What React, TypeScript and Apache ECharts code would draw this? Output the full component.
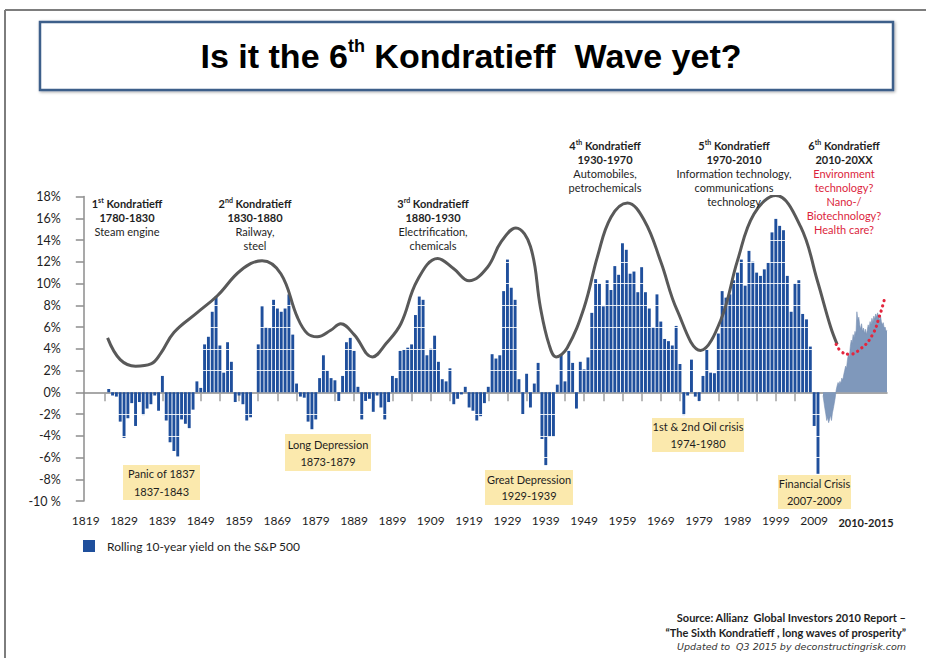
import React, { useEffect, useRef } from 'react';
import * as echarts from 'echarts';

// ---------- data ----------
const seriesName = 'Rolling 10-year yield on the S&P 500';
const barStartYear = 1825;
const yieldValues: number[] = [
  0.3, -0.3, -0.4, -2.7, -4.2, -2.4, -1.0, -3.1, -0.9, -2.1,
  -1.5, -1.1, -0.3, -1.7, 1.5, -2.6, -4.6, -5.4, -5.9, -2.5,
  -2.9, -3.3, -1.6, 1.0, 0.4, 4.4, 5.1, 7.4, 8.8, 4.3,
  1.8, 4.6, 2.8, -0.9, -0.3, -1.1, -2.6, -2.3, 0, 4.4,
  7.9, 6.0, 5.9, 8.5, 7.7, 7.4, 7.7, 9.0, 5.3, 0.8,
  -0.4, -0.5, -2.7, -3.4, -2.5, 1.3, 3.4, 2.0, 1.3, 1.1,
  -0.8, 1.5, 4.6, 5.0, 3.8, 0.5, -2.5, -0.8, -0.6, -1.8,
  -0.3, -1.4, -2.5, -0.9, 1.5, 1.3, 3.8, 3.9, 4.1, 4.4,
  7.1, 8.8, 8.5, 3.4, 4.0, 5.2, 2.8, 1.2, 1.0, 2.2,
  -1.1, -0.6, -0.2, 0.5, -1.4, -1.7, -2.6, -2.2, -1.0, 0.5,
  3.5, 3.1, 3.4, 9.3, 12.2, 9.6, 8.5, 1.2, -2.0, 1.7,
  -1.4, 0.8, 2.7, -4.3, -6.7, -4.1, -4.1, 0.7, 3.5, 1.0,
  3.8, 2.7, -1.5, 2.8, 2.1, 3.2, 7.3, 10.4, 10.0, 7.9,
  10.3, 9.4, 11.6, 10.8, 13.7, 13.1, 10.9, 11.1, 9.2, 11.5,
  9.2, 7.7, 6.0, 9.0, 6.5, 4.9, 4.7, 4.3, 6.1, 2.6,
  -2.1, -0.3, 3.0, -0.4, -0.8, 1.5, 3.9, 1.8, 1.75, 5.4,
  9.3, 8.7, 9.0, 10.3, 11.0, 12.2, 9.8, 13.0, 12.0, 11.0,
  10.7, 11.3, 11.9, 14.7, 16.0, 15.3, 14.9, 10.7, 7.4, 10.0,
  10.3, 7.2, 6.7, 4.2, -3.1, -7.5,
];
const barYears = yieldValues.map((_, i) => barStartYear + i);

const waveYears = [
  1824.7, 1828, 1832, 1836, 1838.6, 1842, 1848, 1853.4, 1859.4, 1865,
  1869.9, 1874.2, 1876.8, 1879.4, 1882.9, 1885.5, 1889, 1893.8, 1897.4, 1901.2,
  1905.5, 1910.8, 1915, 1919, 1923.8, 1927.3, 1931.2, 1935, 1937.6, 1939.8,
  1941.7, 1944.6, 1949, 1952.5, 1956, 1960.3, 1964.7, 1969, 1973.3, 1979.4,
  1984.6, 1989, 1993.3, 1999, 2005.5, 2009.8, 2013.3, 2015,
];
const waveValues = [
  5.0, 3.0, 2.4, 2.6, 3.6, 5.5, 7.3, 8.9, 11.2, 12.1,
  10.9, 6.9, 5.4, 5.1, 5.7, 6.3, 5.3, 3.25, 4.5, 6.3,
  10.3, 12.3, 11.35, 10.25, 11.5, 13.8, 15.1, 13.4, 7.8, 4.45,
  3.25, 4.1, 7.8, 12.5, 16.1, 17.4, 15.8, 12.0, 7.5, 3.85,
  6.6, 12.1, 16.4, 18.1, 15.2, 10.3, 6.0, 4.4,
];

// monthly periods 2010-01 .. 2015-09
const recentPeriods: string[] = [];
for (let y = 2010; y <= 2015; y++) {
  for (let m = 1; m <= 12; m++) {
    if (y === 2015 && m > 9) break;
    recentPeriods.push(`${y}-${m < 10 ? '0' + m : m}`);
  }
}
const recentValues = [
  -0.3, -0.9, -1.5, -2.0, -2.6, -2.3, -2.8, -2.5, -2.1, -2.6, -1.9, -1.5, -1.0, -0.5, 0.2,
  0.6, 0.9, 0.7, 1.0, 0.8, 1.3, 1.1, 1.6, 2.0, 2.4, 2.2, 3.0, 3.5, 3.2, 4.2, 4.8, 4.5, 5.3, 5.0, 5.6, 5.3,
  7.4, 6.6, 6.9, 6.2, 5.8, 6.3, 5.6, 5.9, 5.4, 5.8, 5.3, 5.7, 6.2, 5.9, 6.5, 6.2, 6.8, 6.4, 7.0, 6.7,
  7.2, 6.9, 7.3, 7.0, 6.6, 7.1, 6.5, 6.2, 6.4, 5.9, 6.0, 5.6, 5.7,
];

const outlookPeriods = ['2011-03', '2011-09', '2012-05', '2013-05', '2014-05', '2015-01', '2015-07'];
const outlookValues = [4.4, 3.7, 3.5, 4.0, 5.2, 7.0, 8.8];

const yTickValues = [-10, -8, -6, -4, -2, 0, 2, 4, 6, 8, 10, 12, 14, 16, 18];
const xLabelYears = [1819, 1829, 1839, 1849, 1859, 1869, 1879, 1889, 1899, 1909, 1919, 1929, 1939, 1949, 1959, 1969, 1979, 1989, 1999, 2009];
const xTickYears: number[] = [];
for (let y = 1824; y <= 2009; y += 5) xTickYears.push(y);

// ---------- styling helpers ----------
const FONT = 'Lato, "Open Sans", sans-serif';
const INK = '#1e1e1e';

function kLabel(x: number, yTop: number, ord: string, sup: string, years: string, desc: string[], red: string[] = []) {
  let text = `{b|${ord}}{s|${sup}}{b| Kondratieff}\n{b|${years}}`;
  desc.forEach((d) => { text += `\n{n|${d}}`; });
  red.forEach((r) => { text += `\n{r|${r}}`; });
  return {
    type: 'text',
    x,
    y: yTop,
    z: 20,
    style: {
      text,
      align: 'center',
      verticalAlign: 'top',
      rich: {
        b: { fontFamily: FONT, fontSize: 11, fontWeight: 'bold', fill: INK, lineHeight: 14 },
        s: { fontFamily: FONT, fontSize: 7, fontWeight: 'bold', fill: INK, lineHeight: 7, verticalAlign: 'top' },
        n: { fontFamily: FONT, fontSize: 11, fill: INK, lineHeight: 14 },
        r: { fontFamily: FONT, fontSize: 11, fill: '#dc1f3d', lineHeight: 14 },
      },
    },
  };
}

function noteBox(x: number, y: number, w: number, h: number, lines: string[], lh: number) {
  return [
    { type: 'rect', z: 20, shape: { x, y, width: w, height: h }, style: { fill: '#fbe9ad' } },
    {
      type: 'text', z: 21, x: x + w / 2, y: y + h / 2,
      style: { text: lines.join('\n'), align: 'center', verticalAlign: 'middle', fontFamily: FONT, fontSize: 11, lineHeight: lh, fill: INK },
    },
  ];
}

const whiteLevels = yTickValues.filter((v) => v !== 0 && v !== -10 && v !== 18);

const option: any = {
  animation: false,
  backgroundColor: '#ffffff',
  textStyle: { fontFamily: FONT },
  grid: [
    { left: 83.8, top: 196.5, width: 803.2, height: 304.5 },
    { left: 823, top: 196.5, width: 64, height: 304.5 },
  ],
  legend: {
    show: true,
    data: [seriesName],
    left: 83,
    top: 540,
    padding: 0,
    itemWidth: 12,
    itemHeight: 12,
    icon: 'rect',
    selectedMode: false,
    textStyle: { fontFamily: FONT, fontSize: 12, color: INK, padding: [0, 0, 0, 7] },
  },
  xAxis: [
    {
      type: 'value', gridIndex: 0, min: 1818.5, max: 2028, position: 'bottom',
      axisLine: { show: true, onZero: true, lineStyle: { color: '#8c8c8c', width: 1.5 } },
      axisTick: { show: true, customValues: xTickYears, length: 9, lineStyle: { color: '#a0a0a0', width: 1.5 } },
      axisLabel: { show: false },
      splitLine: { show: false },
    },
    {
      type: 'value', gridIndex: 0, min: 1818.5, max: 2028, position: 'bottom',
      axisLine: { show: false, onZero: false },
      axisTick: { show: false },
      axisLabel: {
        show: true, customValues: xLabelYears, margin: 13, fontSize: 12, fontFamily: FONT, color: INK,
        formatter: (v: number) => String(Math.round(v)),
      },
      splitLine: { show: false },
    },
    { type: 'category', gridIndex: 1, data: recentPeriods, boundaryGap: false, show: false },
  ],
  yAxis: [
    {
      type: 'value', gridIndex: 0, min: -10, max: 18, interval: 2, z: 6,
      axisLine: { show: true, lineStyle: { color: '#8c8c8c', width: 1.5 } },
      axisTick: { show: true, length: 8, lineStyle: { color: '#8c8c8c', width: 1.5 } },
      axisLabel: {
        margin: 23, fontSize: 12.5, fontFamily: FONT, color: INK,
        formatter: (v: number) => (v === -10 ? '-10 %' : `${v}%`),
      },
      splitLine: { show: false },
    },
    { type: 'value', gridIndex: 1, min: -10, max: 18, show: false },
  ],
  series: [
    {
      type: 'bar',
      name: seriesName,
      xAxisIndex: 0,
      yAxisIndex: 0,
      data: barYears.map((y, i) => [y, yieldValues[i]]),
      barWidth: 2.9,
      itemStyle: { color: '#1f4f9c' },
      z: 2,
      markLine: {
        silent: true,
        symbol: ['none', 'none'],
        label: { show: false },
        lineStyle: { color: '#ffffff', width: 1, type: 'solid', opacity: 0.85 },
        data: whiteLevels.map((v) => ({ yAxis: v })),
      },
    },
    {
      type: 'line',
      name: 'wave',
      xAxisIndex: 0,
      yAxisIndex: 0,
      data: waveYears.map((y, i) => [y, waveValues[i]]),
      smooth: 0.4,
      symbol: 'none',
      lineStyle: { color: '#595959', width: 3 },
      z: 8,
    },
    {
      type: 'line',
      name: '2010-2015',
      xAxisIndex: 2,
      yAxisIndex: 1,
      data: recentValues,
      symbol: 'none',
      lineStyle: { color: '#7890b3', width: 0.6 },
      areaStyle: { color: '#7f98bb', opacity: 1 },
      z: 9,
    },
    {
      type: 'line',
      name: 'outlook',
      xAxisIndex: 2,
      yAxisIndex: 1,
      data: outlookPeriods.map((p, i) => [p, outlookValues[i]]),
      smooth: 0.5,
      symbol: 'none',
      lineStyle: { color: '#e4263e', width: 3.2, type: [0.1, 5.2], cap: 'round' },
      z: 10,
    },
  ],
  graphic: [
    { type: 'line', z: 1, shape: { x1: 5, y1: 10, x2: 926, y2: 10 }, style: { stroke: '#7d7d7d', lineWidth: 2 } },
    { type: 'line', z: 1, shape: { x1: 5, y1: 10, x2: 5, y2: 658 }, style: { stroke: '#7d7d7d', lineWidth: 2 } },
    {
      type: 'rect', z: 1, shape: { x: 40, y: 22, width: 853, height: 68 },
      style: { fill: '#ffffff', stroke: '#3e5f8a', lineWidth: 2.5, shadowBlur: 3, shadowColor: 'rgba(0,0,0,0.35)', shadowOffsetX: 1, shadowOffsetY: 1 },
    },
    {
      type: 'text', z: 2, x: 471, y: 56,
      style: {
        text: '{t|Is it the 6}{s|th}{t| Kondratieff  Wave yet?}',
        align: 'center', verticalAlign: 'middle',
        rich: {
          t: { fontFamily: '"Liberation Sans", Arial, sans-serif', fontWeight: 'bold', fontSize: 34, fill: '#000', lineHeight: 38 },
          s: { fontFamily: '"Liberation Sans", Arial, sans-serif', fontWeight: 'bold', fontSize: 18, fill: '#000', lineHeight: 18, verticalAlign: 'top' },
        },
      },
    },
    kLabel(127, 196, '1', 'st', '1780-1830', ['Steam engine']),
    kLabel(255, 196, '2', 'nd', '1830-1880', ['Railway,', 'steel']),
    kLabel(433, 196, '3', 'rd', '1880-1930', ['Electrification,', 'chemicals']),
    kLabel(605, 138, '4', 'th', '1930-1970', ['Automobiles,', 'petrochemicals']),
    kLabel(734, 138, '5', 'th', '1970-2010', ['Information technology,', 'communications', 'technology']),
    kLabel(844, 138, '6', 'th', '2010-20XX', [], ['Environment', 'technology?', 'Nano-/', 'Biotechnology?', 'Health care?']),
    ...noteBox(123, 465, 77, 35, ['Panic of 1837', '1837-1843'], 18),
    ...noteBox(285, 434, 86, 37, ['Long Depression', '1873-1879'], 17),
    ...noteBox(485, 470, 88, 35, ['Great Depression', '1929-1939'], 16),
    ...noteBox(652, 418, 92, 34, ['1st & 2nd Oil crisis', '1974-1980'], 17),
    ...noteBox(778, 475, 73, 34, ['Financial Crisis', '2007-2009'], 17),
    {
      type: 'text', z: 20, x: 866, y: 522,
      style: { text: '2010-2015', align: 'center', verticalAlign: 'middle', fontFamily: FONT, fontSize: 11, fontWeight: 'bold', fill: INK },
    },
    {
      type: 'text', z: 20, x: 906, y: 617,
      style: { text: 'Source: Allianz  Global Investors 2010 Report –', align: 'right', verticalAlign: 'middle', fontFamily: FONT, fontSize: 11, fontWeight: 'bold', fill: INK },
    },
    {
      type: 'text', z: 20, x: 906, y: 632,
      style: { text: '“The Sixth Kondratieff , long waves of prosperity”', align: 'right', verticalAlign: 'middle', fontFamily: FONT, fontSize: 11, fontWeight: 'bold', fill: INK },
    },
    {
      type: 'text', z: 20, x: 906, y: 646,
      style: { text: 'Updated to  Q3 2015 by deconstructingrisk.com', align: 'right', verticalAlign: 'middle', fontFamily: '"DejaVu Sans", sans-serif', fontSize: 9.5, fontStyle: 'italic', fill: '#333' },
    },
  ],
};

export default function App() {
  const ref = useRef<HTMLDivElement>(null);
  useEffect(() => {
    if (!ref.current) return;
    const chart = echarts.init(ref.current, null, { renderer: 'svg', width: 926, height: 658 });
    chart.setOption(option);
    return () => chart.dispose();
  }, []);
  return (
    <div
      ref={ref}
      style={{ position: 'fixed', left: 0, top: 0, width: 926, height: 658, background: '#ffffff' }}
    />
  );
}
